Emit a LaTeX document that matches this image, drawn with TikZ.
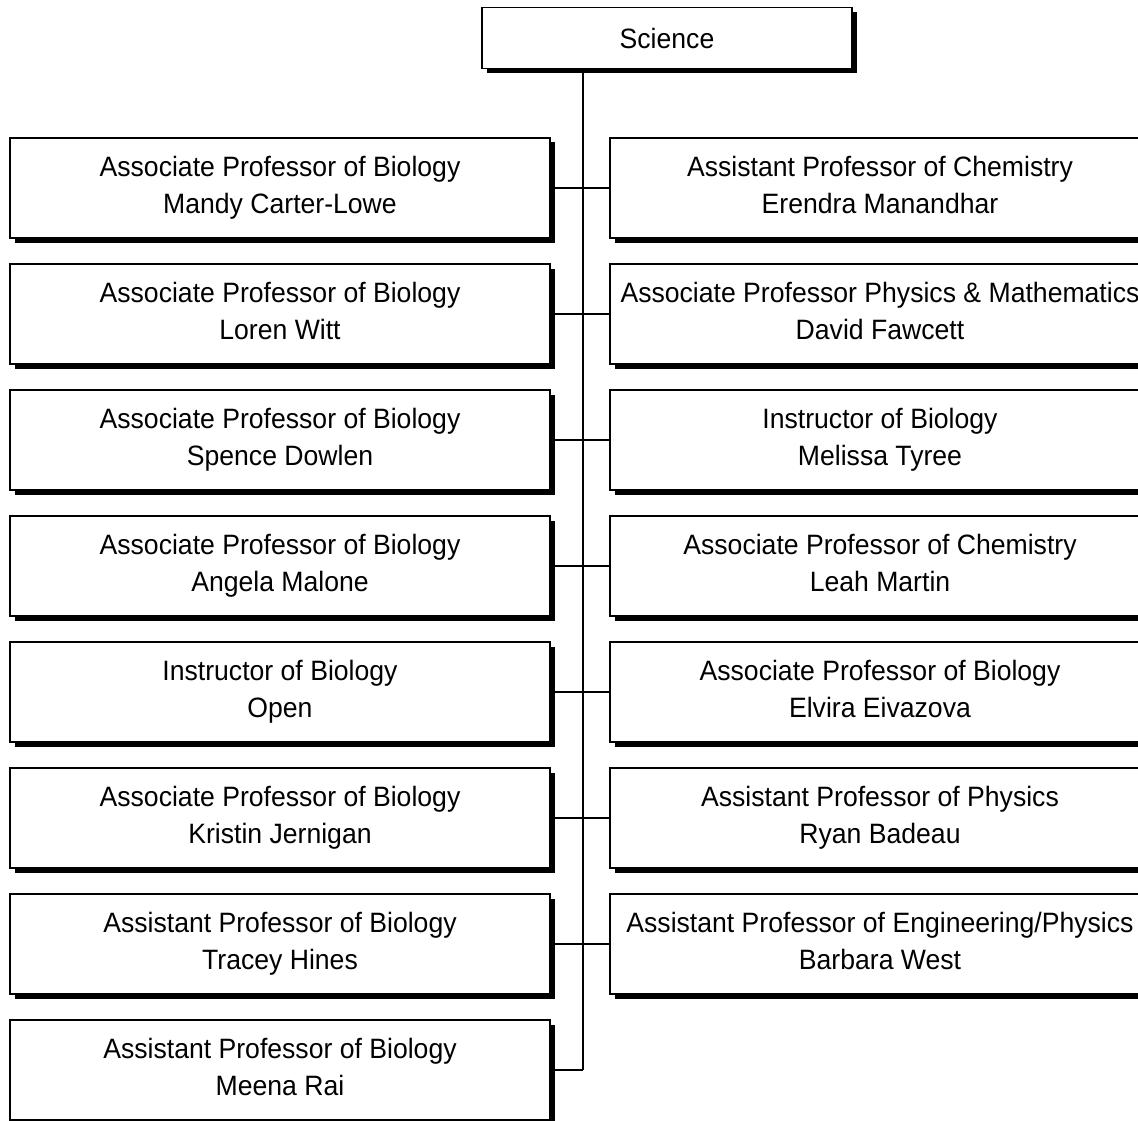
\documentclass[tikz,border=0pt]{standalone}
\usepackage{fontspec}
\setmainfont[FakeStretch=0.95]{Liberation Sans}
\usetikzlibrary{shadows}
\newcommand{\twoline}[2]{\strut #1\\\strut #2}
\begin{document}
\begin{tikzpicture}[x=1pt,y=1pt,
  card/.style={draw=black, line width=1.6pt, fill=white, minimum width=540pt, minimum height=100pt,
    align=center, inner sep=0pt, font=\fontsize{28}{37}\selectfont,
    general shadow={fill=black, shadow xshift=4.5pt, shadow yshift=-4.5pt}},
  topcard/.style={card, minimum width=370pt, minimum height=61pt},
  link/.style={draw=black, line width=1.6pt}]
\useasboundingbox (0,0) rectangle (1138,-1121);
\clip (0,0) rectangle (1138,-1121);
\node[topcard] (sci) at (667,-38) {Science};
\node[card] (L1) at (280,-188) {\twoline{Associate Professor of Biology}{Mandy Carter-Lowe}};
\node[card] (L2) at (280,-314) {\twoline{Associate Professor of Biology}{Loren Witt}};
\node[card] (L3) at (280,-440) {\twoline{Associate Professor of Biology}{Spence Dowlen}};
\node[card] (L4) at (280,-566) {\twoline{Associate Professor of Biology}{Angela Malone}};
\node[card] (L5) at (280,-692) {\twoline{Instructor of Biology}{Open}};
\node[card] (L6) at (280,-818) {\twoline{Associate Professor of Biology}{Kristin Jernigan}};
\node[card] (L7) at (280,-944) {\twoline{Assistant Professor of Biology}{Tracey Hines}};
\node[card] (L8) at (280,-1070) {\twoline{Assistant Professor of Biology}{Meena Rai}};
\node[card] (R1) at (880,-188) {\twoline{Assistant Professor of Chemistry}{Erendra Manandhar}};
\node[card] (R2) at (880,-314) {\twoline{Associate Professor Physics \& Mathematics}{David Fawcett}};
\node[card] (R3) at (880,-440) {\twoline{Instructor of Biology}{Melissa Tyree}};
\node[card] (R4) at (880,-566) {\twoline{Associate Professor of Chemistry}{Leah Martin}};
\node[card] (R5) at (880,-692) {\twoline{Associate Professor of Biology}{Elvira Eivazova}};
\node[card] (R6) at (880,-818) {\twoline{Assistant Professor of Physics}{Ryan Badeau}};
\node[card] (R7) at (880,-944) {\twoline{Assistant Professor of Engineering/Physics}{Barbara West}};
\coordinate (trunkend) at (583,-1070);
\draw[link] (sci.south -| trunkend) -- (trunkend);
\foreach \i in {1,...,8} { \draw[link] (L\i.east) -- (L\i.east -| trunkend); }
\foreach \i in {1,...,7} { \draw[link] (R\i.west) -- (R\i.west -| trunkend); }
\end{tikzpicture}
\end{document}
